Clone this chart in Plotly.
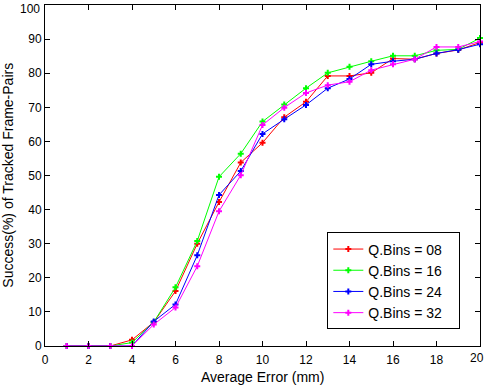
import plotly.graph_objects as go

avg_error = list(range(1, 21))

bins_08 = [0, 0, 0, 1.8, 7.0, 16.1, 30.0, 42.2, 53.8, 59.6, 67.1, 71.6, 79.2, 79.2, 80.1, 84.3, 84.1, 85.8, 86.8, 89.0]
bins_16 = [0, 0, 0, 1.0, 7.0, 17.2, 30.8, 49.6, 56.4, 65.8, 70.8, 75.6, 80.1, 81.9, 83.5, 85.1, 85.1, 86.7, 87.0, 90.3]
bins_24 = [0, 0, 0, 0, 7.2, 12.2, 26.6, 44.3, 51.3, 62.2, 66.5, 70.7, 75.6, 78.3, 82.6, 83.5, 84.1, 85.8, 86.9, 88.5]
bins_32 = [0, 0, 0, 0, 6.3, 11.3, 23.4, 39.5, 50.1, 64.8, 69.9, 74.2, 76.5, 77.5, 80.9, 82.6, 84.1, 87.7, 87.7, 89.3]

series = [
    ("Q.Bins = 08", bins_08, "#FF0000"),
    ("Q.Bins = 16", bins_16, "#00FF00"),
    ("Q.Bins = 24", bins_24, "#0000FF"),
    ("Q.Bins = 32", bins_32, "#FF00FF"),
]

x_ticks = list(range(0, 21, 2))
y_ticks = list(range(0, 101, 10))

fig = go.Figure()
for name, vals, colour in series:
    fig.add_trace(go.Scatter(
        x=avg_error,
        y=vals,
        name=name + "\u00a0\u00a0\u00a0",  # a little right padding inside the legend box
        mode="lines+markers",
        line=dict(color=colour, width=1),
        marker=dict(symbol="cross", size=5, color=colour),
        cliponaxis=False,
    ))

axis_style = dict(
    showline=True,
    linecolor="black",
    linewidth=1,
    mirror="ticks",
    ticks="inside",
    ticklen=5,
    tickcolor="black",
    showgrid=False,
    zeroline=False,
    automargin=False,
    ticklabeloverflow="allow",
    tickfont=dict(size=12, color="black"),
)

# the last label of each axis sits at the window edge; those two are drawn
# as annotations nudged inwards so they are not clipped
x_labels = [str(v) if v != x_ticks[-1] else "" for v in x_ticks]
y_labels = [str(v) if v != y_ticks[-1] else "" for v in y_ticks]

fig.update_layout(
    width=485,
    height=386,
    paper_bgcolor="white",
    plot_bgcolor="white",
    font=dict(family="Liberation Sans, Arial, sans-serif", size=12, color="black"),
    margin=dict(l=45, r=5, t=5, b=40),
    xaxis=dict(range=[0, 20], tickvals=x_ticks, ticktext=x_labels,
               ticklabelstandoff=3, **axis_style),
    yaxis=dict(range=[0, 100], tickvals=y_ticks, ticktext=y_labels, **axis_style),
    legend=dict(
        x=0.649, y=0.333, xanchor="left", yanchor="top",
        bordercolor="black", borderwidth=1, bgcolor="white",
        font=dict(size=14),
        tracegroupgap=0,
    ),
    annotations=[
        dict(text=str(x_ticks[-1]), xref="x", yref="paper",
             x=x_ticks[-1], y=-0.035, xanchor="center", yanchor="middle",
             xshift=-3, showarrow=False, font=dict(size=12)),
        dict(text=str(y_ticks[-1]), xref="paper", yref="y",
             x=0, y=y_ticks[-1], xanchor="right", yanchor="top",
             xshift=-3, yshift=5, showarrow=False, font=dict(size=12)),
        dict(text="Average Error (mm)", xref="paper", yref="paper",
             x=0.5, y=-0.091, xanchor="center", yanchor="middle",
             showarrow=False, font=dict(size=14)),
        dict(text="Success(%) of Tracked Frame-Pairs", xref="paper", yref="paper",
             x=-0.087, y=0.5, xanchor="center", yanchor="middle", textangle=-90,
             showarrow=False, font=dict(size=14)),
    ],
)

# page has a default body margin; drop it so the figure sits at the window corner
fig.write_html("out.html", config={"displayModeBar": False},
               post_script="document.body.style.margin='0';")
